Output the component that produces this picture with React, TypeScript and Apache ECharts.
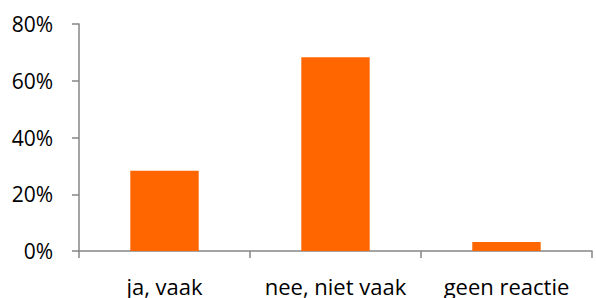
import React, { useEffect, useRef } from "react";
import * as echarts from "echarts";

const categories = ["ja, vaak", "nee, niet vaak", "geen reactie"];
const values = [28.3, 68.3, 3.2];
const yTicks = [0, 20, 40, 60, 80];

export default function App() {
  const ref = useRef<HTMLDivElement>(null);
  useEffect(() => {
    document.body.style.margin = "0";
    const chart = echarts.init(ref.current!, null, { renderer: "svg" });
    const font = "'Open Sans', sans-serif";
    chart.setOption({
      animation: false,
      backgroundColor: "#ffffff",
      grid: { left: 79, right: 4, top: 24, bottom: 47, containLabel: false },
      xAxis: {
        type: "category",
        data: categories,
        axisLine: { lineStyle: { color: "#868686", width: 1.5 } },
        axisTick: { show: true, alignWithLabel: false, length: 7, lineStyle: { color: "#868686", width: 1.5 } },
        axisLabel: { color: "#000", fontSize: 22, fontFamily: font, margin: 24, interval: 0 },
        splitLine: { show: false },
      },
      yAxis: {
        type: "value",
        min: yTicks[0],
        max: yTicks[yTicks.length - 1],
        interval: 20,
        axisLine: { show: true, lineStyle: { color: "#868686", width: 1.5 } },
        axisTick: { show: true, length: 7, lineStyle: { color: "#868686", width: 1.5 } },
        axisLabel: { color: "#000", fontSize: 21, fontFamily: font, margin: 26, formatter: "{value}%" },
        splitLine: { show: false },
      },
      series: [
        {
          type: "bar",
          data: values,
          barWidth: "40%",
          itemStyle: { color: "#FF6600" },
        },
      ],
    });
    return () => chart.dispose();
  }, []);
  return <div ref={ref} style={{ width: 596, height: 298 }} />;
}
